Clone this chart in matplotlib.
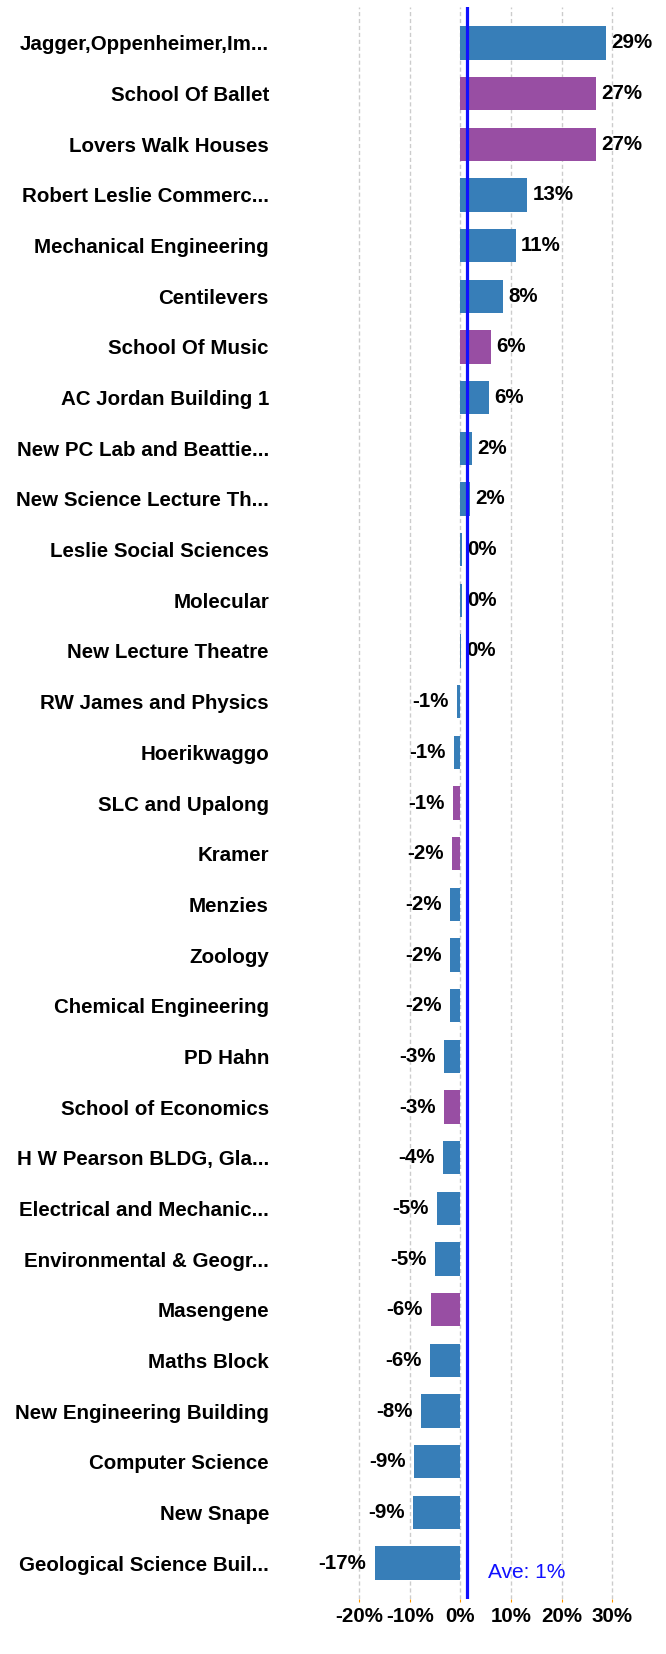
import matplotlib
matplotlib.use("Agg")
import matplotlib.pyplot as plt

# Buildings, top to bottom
buildings = [
    "Jagger,Oppenheimer,Im...", "School Of Ballet", "Lovers Walk Houses",
    "Robert Leslie Commerc...", "Mechanical Engineering", "Centilevers",
    "School Of Music", "AC Jordan Building 1", "New PC Lab and Beattie...",
    "New Science Lecture Th...", "Leslie Social Sciences", "Molecular",
    "New Lecture Theatre", "RW James and Physics", "Hoerikwaggo",
    "SLC and Upalong", "Kramer", "Menzies", "Zoology",
    "Chemical Engineering", "PD Hahn", "School of Economics",
    "H W Pearson BLDG, Gla...", "Electrical and Mechanic...",
    "Environmental & Geogr...", "Masengene", "Maths Block",
    "New Engineering Building", "Computer Science", "New Snape",
    "Geological Science Buil...",
]
# change in %
change = [
    28.7, 26.7, 26.7, 13.1, 10.9, 8.3, 6.0, 5.6, 2.2, 1.8, 0.3, 0.3, 0.1,
    -0.7, -1.3, -1.45, -1.6, -2.1, -2.1, -2.1, -3.3, -3.3, -3.5, -4.7,
    -5.1, -5.9, -6.1, -7.8, -9.2, -9.4, -16.9,
]
# group: "b" blue, "p" purple
group = [
    "b", "p", "p", "b", "b", "b", "p", "b", "b", "b", "b", "b", "b",
    "b", "b", "p", "p", "b", "b", "b", "b", "p", "b", "b", "b", "p",
    "b", "b", "b", "b", "b",
]
average = 1.3
ticks = [-20, -10, 0, 10, 20, 30]

colors = {"b": "#377EB8", "p": "#984EA3"}
FS = 14.8
VFS = 14.8
FONT = "Liberation Sans"

fig = plt.figure(figsize=(6.66, 16.54), dpi=100)
ax = fig.add_axes([280 / 666, 1 - 1599 / 1654, 370 / 666, 1592 / 1654])

n = len(buildings)
ypos = list(range(n))
ax.barh(ypos, change, height=0.66, color=[colors[g] for g in group])

for y, v in zip(ypos, change):
    if v >= 0:
        ax.annotate(f"{v:.0f}%", (v, y), xytext=(4, 0), textcoords="offset points",
                    ha="left", va="center", fontsize=VFS, fontweight="bold", family=FONT)
    else:
        ax.annotate(f"{v:.0f}%", (v, y), xytext=(-6, 0), textcoords="offset points",
                    ha="right", va="center", fontsize=VFS, fontweight="bold", family=FONT)

ax.axvline(average, color="#1010ff", linewidth=2.3, zorder=3)
ax.annotate(f"Ave: {average:.0f}%", (average, n - 1), xytext=(15, -7),
            textcoords="offset points", ha="left", va="center",
            fontsize=15, color="#1010ff", family=FONT)

ax.set_ylim(n - 1 + 0.71, -0.71)
ax.set_xlim(-35.6, 37.4)
ax.set_yticks(ypos)
ax.set_yticklabels(buildings, fontsize=FS, fontweight="bold", family=FONT)
ax.set_xticks(ticks)
ax.set_xticklabels([f"{t}%" for t in ticks], fontsize=FS, fontweight="bold", family=FONT)
ax.tick_params(axis="y", length=0, pad=8)
ax.tick_params(axis="x", length=2, color="#ff9900", pad=4)

for t in ticks:
    ax.axvline(t, color="#cccccc", linestyle=(0, (3, 2)), linewidth=1, zorder=0)

for s in ax.spines.values():
    s.set_visible(False)

fig.savefig("out.png", dpi=100)
